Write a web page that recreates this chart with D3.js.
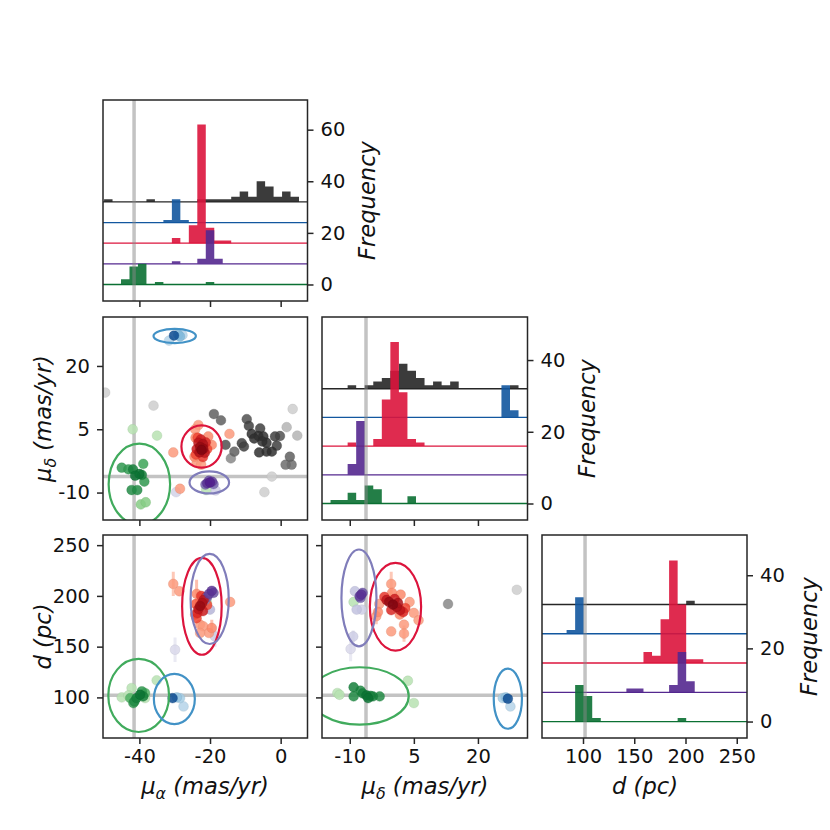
<!DOCTYPE html>
<html>
<head>
<meta charset="utf-8">
<script src="https://cdn.jsdelivr.net/npm/d3@7"></script>
<style>
  body { margin: 0; background: #fff; }
  text { font-family: "DejaVu Sans", sans-serif; }
</style>
</head>
<body>
<div id="chart"></div>
<script>
// ---------------- data ----------------
// group order everywhere: black, blue, red, purple, green
let histOffsets = [32, 24, 16, 8, 0];
let histColors = ["#262626", "#12579f", "#dc143c", "#54288f", "#0b7033"];

// histogram bins: [first edge, bin width], 24 bins
let pmaEdges = [-50, 2.4];
let pmaBlack  = [1,0,0,0,0,1,0,0,0,0,0,1,1,1,1,2,4,2,8,6,2,4,2,0];
let pmaBlue   = [0,0,0,0,0,0,0,1,9,1,0,0,0,0,0,0,0,0,0,0,0,0,0,0];
let pmaRed    = [0,0,0,0,0,0,0,0,2,0,7,46,6,1,1,0,0,0,0,0,0,0,0,0];
let pmaPurple = [0,0,0,0,0,0,0,0,1,0,0,2,13,2,0,0,0,0,0,0,0,0,0,0];
let pmaGreen  = [0,0,2,7,8,0,1,0,0,0,0,0,1,0,0,0,0,0,0,0,0,0,0,0];

let pmdEdges = [-16.5, 2.0];
let pmdBlack  = [0,0,0,1,0,1,2,3,5,7,5,3,1,2,1,2,0,0,0,0,0,0,1,0];
let pmdBlue   = [0,0,0,0,0,0,0,0,0,0,0,0,0,0,0,0,0,0,0,0,0,9,2,0];
let pmdRed    = [0,0,0,1,0,0,2,13,29,15,2,1,0,0,0,0,0,0,0,0,0,0,0,0];
let pmdPurple = [0,0,0,3,15,0,0,0,0,0,0,0,0,0,0,0,0,0,0,0,0,0,0,0];
let pmdGreen  = [0,1,1,3,1,5,4,0,0,0,2,0,0,0,0,0,0,0,0,0,0,0,0,0];

let distEdges = [59, 200 / 24];
let distBlack  = [0,0,0,0,0,0,0,0,0,0,0,0,0,0,0,0,0,1,0,0,0,0,0,0];
let distBlue   = [0,0,0,1,10,0,0,0,0,0,0,0,0,0,0,0,0,0,0,0,0,0,0,0];
let distRed    = [0,0,0,0,0,0,0,0,0,0,0,0,3,2,12,28,16,1,1,0,0,0,0,0];
let distPurple = [0,0,0,0,0,0,0,0,0,0,1,1,0,0,0,2,11,3,0,0,0,0,0,0];
let distGreen  = [0,0,0,0,10,7,1,0,0,0,0,0,0,0,0,0,1,0,0,0,0,0,0,0];

// reference values (grey lines)
let refPmA = -41.5, refPmD = -6.2, refDist = 102;

// scatter points: [x, y, membership shade, optional error in d]
let pmpmBlack = [
  [-18.9, 8.6, .7], [-16.9, 7.1, .7], [-9.6, 7.4, .75], [-9.0, 5.8, .8], [-5.8, 5.2, .8],
  [-8.2, 3.9, .85], [-6.3, 3.4, .85], [-4.9, 3.3, .85], [-4.0, 1.8, .85], [-1.6, 3.3, .8],
  [-0.2, 3.4, .75], [-1.1, 1.1, .8], [-4.0, -0.3, .85], [-6.1, -0.5, .85], [-2.5, -0.3, .85],
  [-11.0, 1.7, .8], [-10.4, 0.9, .8], [-13.1, -0.3, .7], [-14.1, -1.9, .55], [-15.6, 1.3, .75],
  [2.6, -1.5, .7], [3.1, -3.4, .65], [1.4, -3.4, .65], [-5.2, 2.1, .85], [-7.5, 2.8, .85],
  [-49.7, 13.7, .3], [-36.0, 10.6, .3], [3.4, 9.8, .3], [1.7, 5.5, .4], [4.7, 3.5, .4],
  [-2.5, -6.2, .3], [-4.6, -9.9, .3]
];
let pmpmBlue = [[-30.2, 27.2, .9], [-29.0, 27.4, .4], [-27.8, 27.3, .3], [-31.6, 26.0, .3], [-28.5, 27.0, .45]];
let pmpmRed = [
  [-22.4, 0.1, .95], [-22.8, 0.8, .9], [-21.9, 0.4, .9], [-23.0, -0.5, .85], [-22.0, 1.5, .85],
  [-23.3, 1.8, .8], [-21.5, -0.6, .8], [-23.8, 0.3, .75], [-22.6, 2.6, .75], [-21.2, 1.9, .7],
  [-23.5, 3.0, .6], [-22.0, -1.6, .65], [-20.8, 0.3, .6], [-24.0, -1.0, .6],
  [-23.3, 6.0, .35], [-24.2, 5.0, .35], [-24.1, 3.0, .4], [-14.5, 3.9, .35], [-19.5, 1.3, .4],
  [-30.4, -0.5, .35], [-23.8, -3.0, .35], [-22.5, -3.4, .35], [-28.5, -9.1, .35], [-20.5, 3.3, .4], [-24.4, -1.5, .4]
];
let pmpmPurple = [[-20.0, -7.6, .9], [-20.8, -7.8, .85], [-19.4, -7.4, .8], [-21.3, -8.1, .7], [-19.0, -8.0, .7],
  [-20.3, -7.2, .75], [-18.4, -9.5, .3], [-29.6, -9.9, .28]];
let pmpmGreen = [
  [-45.0, -4.1, .7], [-43.1, -4.5, .7], [-41.8, -4.5, .8], [-38.9, -3.2, .65], [-40.0, -5.6, .85],
  [-41.2, -6.0, .85], [-39.3, -5.8, .8], [-38.6, -7.4, .7], [-42.2, -9.4, .75], [-40.6, -9.4, .75],
  [-39.6, -12.8, .45], [-38.2, -12.3, .45], [-41.9, 5.0, .3], [-35.0, 3.5, .3], [-21.1, -9.4, .3]
];

let pmaDistBlue = [[-30.6, 99.3, .9], [-28.5, 99.3, .35], [-27.5, 91.1, .3], [-29.4, 100, .4]];
let pmaDistRed = [
  [-30.4, 211.8, .35, 12], [-28.7, 204.6, .35], [-23.8, 202, .4, 14], [-14.3, 194, .35], [-22.8, 171.7, .35],
  [-21.9, 170, .35], [-20.3, 163.5, .35], [-22.8, 163.5, .35], [-24.2, 181.6, .45], [-19.5, 168.4, .4, 8],
  [-22.8, 190, .9], [-22.2, 193, .85], [-23.3, 187, .8], [-21.8, 196, .8], [-23.6, 183, .7],
  [-22.0, 185, .75], [-21.2, 199, .7], [-23.8, 178, .6], [-22.5, 200, .65], [-20.8, 191, .6], [-24.0, 192, .55]
];
let pmaDistPurple = [[-19.5, 205, .85], [-20.3, 202, .8], [-19.0, 203, .75], [-20.8, 199, .7], [-21.4, 196, .6],
  [-20.0, 186.5, .4], [-18.6, 160, .3, 10], [-29.9, 147, .25, 12]];
let pmaDistGreen = [
  [-45.0, 100, .3], [-42.2, 109.2, .3], [-43.1, 102, .3], [-41.4, 96, .75], [-39.3, 106, .7],
  [-38.4, 104.3, .6], [-40.8, 99.3, .8], [-41.7, 94.4, .7], [-39.8, 102.6, .85], [-38.9, 101, .8],
  [-35.1, 116.8, .3], [-38.4, 99.3, .3], [-42.6, 99.3, .6], [-20.9, 194, .3]
];

let pmdDistBlack = [[13.0, 192, .55], [29.1, 206, .3]];
let pmdDistBlue = [[27.0, 98.7, .9], [25.8, 99.3, .35], [27.6, 91.1, .3], [26.5, 100, .4]];
let pmdDistRed = [
  [-0.3, 211.8, .35, 12], [-3.1, 192.1, .35], [-3.8, 180, .35, 8], [4.0, 194, .35], [5.0, 183.2, .35],
  [6.1, 176, .35], [2.7, 171.7, .35], [-0.3, 165, .35], [2.7, 162.8, .35, 8], [-3.4, 184.2, .4],
  [-0.1, 203, .4], [1.9, 201.3, .4], [1.7, 181.6, .4],
  [0.1, 191.4, .95], [-0.8, 194, .9], [1.0, 189, .85], [-1.4, 196, .8], [1.8, 186, .8], [0.5, 197, .75],
  [-0.3, 186, .7], [2.5, 184, .7], [-1.9, 199, .65], [1.3, 193, .85], [3.0, 188, .6]
];
let pmdDistPurple = [[-7.3, 201.3, .85], [-7.7, 199.6, .8], [-7.0, 203, .75], [-7.5, 198, .7], [-8.8, 204.6, .35],
  [-8.4, 186.5, .35], [-7.2, 186.5, .3], [-9.2, 160, .3, 6], [-9.8, 147.7, .25, 12]];
let pmdDistGreen = [
  [-9.1, 110, .8], [-7.5, 106.6, .75], [-6.1, 102, .85], [-5.7, 99.3, .85], [-4.6, 101, .8],
  [-3.0, 101, .75], [-9.1, 101, .75], [-7.0, 104, .8], [-5.2, 101.6, .8], [-12.9, 104.3, .3],
  [-12.4, 102.6, .3], [3.6, 116.4, .3], [5.0, 94.4, .3], [-9.1, 194, .3]
];

// 1-sigma ellipses [cx, cy, rx, ry] in data units; order green, blue, red, purple
let ellipseColors = ["#41ab5d", "#4292c6", "#dc143c", "#807dba"];
let pmpmEllipses   = [[-40.0, -8.0, 8.7, 9.6], [-30.0, 27.1, 6.0, 1.7], [-22.4, 0.9, 5.7, 5.0], [-20.2, -7.6, 5.6, 2.6]];
let pmaDistEllipses = [[-40.2, 101.9, 8.6, 36], [-30.1, 98.4, 5.8, 24.7], [-22.3, 189.7, 5.6, 47.7], [-20.1, 197, 5.4, 44.4]];
let pmdDistEllipses = [[-7.7, 101.4, 11.5, 28.3], [27.0, 98.7, 3.3, 29.6], [0.7, 189.3, 6.0, 43.2], [-7.85, 198, 4.1, 47.7]];

// ticks
let pmaTicks = [-40, -20, 0], pmdTicks = [-10, 5, 20], distTicks = [100, 150, 200, 250];
let freqTicksTop = [0, 20, 40, 60], freqTicks = [0, 20, 40];

// ---------------- layout ----------------
let colX = [[103, 307.5], [322, 527.5], [542, 747]];
let rowY = [[100, 301], [317, 520], [535, 738]];
let tickFont = 19.5, labelFont = 22.6;

let svg = d3.select("#chart").append("svg")
    .attr("width", 830)
    .attr("height", 830);
let defs = svg.append("defs");

let xPmA = d3.scaleLinear().domain([-50.3, 7.6]).range(colX[0]);
let xPmD = d3.scaleLinear().domain([-16.5, 31.6]).range(colX[1]);
let xDist = d3.scaleLinear().domain([60, 260]).range(colX[2]);
let yPmD = d3.scaleLinear().domain([-16.5, 31.6]).range([rowY[1][1], rowY[1][0]]);
let yDist = d3.scaleLinear().domain([60, 260]).range([rowY[2][1], rowY[2][0]]);
let yHist0 = d3.scaleLinear().domain([-6.4, 71.5]).range([rowY[0][1], rowY[0][0]]);
let yHist1 = d3.scaleLinear().domain([-4.6, 52]).range([rowY[1][1], rowY[1][0]]);
let yHist2 = d3.scaleLinear().domain([-4.5, 51]).range([rowY[2][1], rowY[2][0]]);

let panelCount = 0;
function makePanel(x, y) {
    let id = "clip" + (panelCount++);
    let x0 = x.range()[0], y0 = Math.min(...y.range());
    let w = x.range()[1] - x0, h = Math.abs(y.range()[0] - y.range()[1]);
    defs.append("clipPath").attr("id", id).append("rect")
        .attr("x", x0).attr("y", y0).attr("width", w).attr("height", h);
    let outer = svg.append("g");
    let inner = outer.append("g").attr("clip-path", `url(#${id})`);
    return {outer: outer, inner: inner, box: [x0, y0, w, h]};
}

function refLine(g, x, y, vx, vy) {
    if (vx !== null) g.append("line")
        .attr("x1", x(vx)).attr("x2", x(vx)).attr("y1", y.range()[0]).attr("y2", y.range()[1])
        .attr("stroke", "#888").attr("stroke-opacity", 0.5).attr("stroke-width", 3.5);
    if (vy !== null) g.append("line")
        .attr("x1", x.range()[0]).attr("x2", x.range()[1]).attr("y1", y(vy)).attr("y2", y(vy))
        .attr("stroke", "#888").attr("stroke-opacity", 0.5).attr("stroke-width", 3.5);
}

// stacked, offset histograms
function drawHist(p, x, y, edges, counts, ref) {
    counts.forEach(function(c, gi) {
        let off = histOffsets[gi];
        p.inner.append("line")
            .attr("x1", x.range()[0]).attr("x2", x.range()[1])
            .attr("y1", y(off)).attr("y2", y(off))
            .attr("stroke", histColors[gi]).attr("stroke-width", 1.3);
        let steps = c.map(function(v, i) { return {e: edges[0] + i * edges[1], v: v}; });
        steps.push({e: edges[0] + c.length * edges[1], v: 0});
        let area = d3.area()
            .x(function(d) { return x(d.e); })
            .y0(y(off))
            .y1(function(d) { return y(off + d.v); })
            .curve(d3.curveStepAfter);
        p.inner.append("path").datum(steps)
            .attr("d", area)
            .attr("fill", histColors[gi])
            .attr("fill-opacity", 0.9);
    });
    refLine(p.inner, x, y, ref, null);
}

function drawScatter(p, x, y, sets, ellipses, rx, ry) {
    refLine(p.inner, x, y, rx, ry);
    let pts = [];
    sets.forEach(function(s) {
        s[0].forEach(function(d) {
            pts.push({x: d[0], y: d[1], s: d[2], e: d[3] || 0, c: s[1](d[2])});
        });
    });
    pts.sort(function(a, b) { return a.s - b.s; });

    p.inner.selectAll(null).data(pts.filter(function(d) { return d.e > 0; })).enter()
        .append("line")
        .attr("x1", function(d) { return x(d.x); })
        .attr("x2", function(d) { return x(d.x); })
        .attr("y1", function(d) { return y(d.y - d.e); })
        .attr("y2", function(d) { return y(d.y + d.e); })
        .attr("stroke", function(d) { return d.c; })
        .attr("stroke-opacity", 0.55)
        .attr("stroke-width", 3);

    p.inner.selectAll(null).data(pts).enter()
        .append("circle")
        .attr("cx", function(d) { return x(d.x); })
        .attr("cy", function(d) { return y(d.y); })
        .attr("r", 4.9)
        .attr("fill", function(d) { return d.c; })
        .attr("fill-opacity", 0.85)
        .attr("stroke", function(d) { return d3.color(d.c).darker(0.4); })
        .attr("stroke-opacity", 0.5)
        .attr("stroke-width", 0.6);

    p.inner.selectAll(null).data(ellipses).enter()
        .append("ellipse")
        .attr("cx", function(d) { return x(d[0]); })
        .attr("cy", function(d) { return y(d[1]); })
        .attr("rx", function(d) { return Math.abs(x(d[0] + d[2]) - x(d[0])); })
        .attr("ry", function(d) { return Math.abs(y(d[1] + d[3]) - y(d[1])); })
        .attr("fill", "none")
        .attr("stroke", function(d, i) { return ellipseColors[i]; })
        .attr("stroke-width", 2.2);
}

function styleAxis(g) {
    g.select(".domain").remove();
    g.selectAll(".tick line").attr("stroke", "#262626").attr("stroke-width", 1.5);
    g.selectAll(".tick text").attr("fill", "#111").style("font-size", tickFont + "px")
        .style("font-family", "'DejaVu Sans', sans-serif");
}

function frame(p, axes) {
    let b = p.box;
    axes.forEach(function(a) {
        let g = p.outer.append("g");
        let ax;
        if (a.side === "bottom") { ax = d3.axisBottom(a.scale); g.attr("transform", `translate(0,${b[1] + b[3]})`); }
        if (a.side === "left")   { ax = d3.axisLeft(a.scale);   g.attr("transform", `translate(${b[0]},0)`); }
        if (a.side === "right")  { ax = d3.axisRight(a.scale);  g.attr("transform", `translate(${b[0] + b[2]},0)`); }
        ax.tickValues(a.ticks).tickSize(6).tickPadding(a.side === "bottom" ? 5 : 7)
          .tickFormat(a.labels ? function(d) { return String(d); } : "");
        g.call(ax);
        styleAxis(g);
    });
    p.outer.append("rect")
        .attr("x", b[0]).attr("y", b[1]).attr("width", b[2]).attr("height", b[3])
        .attr("fill", "none").attr("stroke", "#262626").attr("stroke-width", 1.5);
}

// ---------------- panels ----------------
let pA = makePanel(xPmA, yHist0);
drawHist(pA, xPmA, yHist0, pmaEdges, [pmaBlack, pmaBlue, pmaRed, pmaPurple, pmaGreen], refPmA);
frame(pA, [{side: "bottom", scale: xPmA, ticks: pmaTicks, labels: false},
           {side: "right", scale: yHist0, ticks: freqTicksTop, labels: true}]);

let pB = makePanel(xPmA, yPmD);
drawScatter(pB, xPmA, yPmD,
    [[pmpmBlack, d3.interpolateGreys], [pmpmBlue, d3.interpolateBlues], [pmpmRed, d3.interpolateReds],
     [pmpmPurple, d3.interpolatePurples], [pmpmGreen, d3.interpolateGreens]],
    pmpmEllipses, refPmA, refPmD);
frame(pB, [{side: "bottom", scale: xPmA, ticks: pmaTicks, labels: false},
           {side: "left", scale: yPmD, ticks: pmdTicks, labels: true}]);

let pC = makePanel(xPmD, yHist1);
drawHist(pC, xPmD, yHist1, pmdEdges, [pmdBlack, pmdBlue, pmdRed, pmdPurple, pmdGreen], refPmD);
frame(pC, [{side: "bottom", scale: xPmD, ticks: pmdTicks, labels: false},
           {side: "right", scale: yHist1, ticks: freqTicks, labels: true}]);

let pD = makePanel(xPmA, yDist);
drawScatter(pD, xPmA, yDist,
    [[pmaDistBlue, d3.interpolateBlues], [pmaDistRed, d3.interpolateReds],
     [pmaDistPurple, d3.interpolatePurples], [pmaDistGreen, d3.interpolateGreens]],
    pmaDistEllipses, refPmA, refDist);
frame(pD, [{side: "bottom", scale: xPmA, ticks: pmaTicks, labels: true},
           {side: "left", scale: yDist, ticks: distTicks, labels: true}]);

let pE = makePanel(xPmD, yDist);
drawScatter(pE, xPmD, yDist,
    [[pmdDistBlack, d3.interpolateGreys], [pmdDistBlue, d3.interpolateBlues], [pmdDistRed, d3.interpolateReds],
     [pmdDistPurple, d3.interpolatePurples], [pmdDistGreen, d3.interpolateGreens]],
    pmdDistEllipses, refPmD, refDist);
frame(pE, [{side: "bottom", scale: xPmD, ticks: pmdTicks, labels: true},
           {side: "left", scale: yDist, ticks: distTicks, labels: false}]);

let pF = makePanel(xDist, yHist2);
drawHist(pF, xDist, yHist2, distEdges, [distBlack, distBlue, distRed, distPurple, distGreen], refDist);
frame(pF, [{side: "bottom", scale: xDist, ticks: distTicks, labels: true},
           {side: "right", scale: yHist2, ticks: freqTicks, labels: true}]);

// ---------------- axis labels ----------------
function label(x, y, rotate, main, sub, rest) {
    let t = svg.append("text")
        .attr("transform", `translate(${x},${y})` + (rotate ? " rotate(-90)" : ""))
        .attr("text-anchor", "middle")
        .style("font-size", labelFont + "px")
        .style("font-style", "italic")
        .attr("fill", "#111");
    t.append("tspan").text(main);
    if (sub) {
        t.append("tspan").attr("dy", 5).style("font-size", (labelFont * 0.7) + "px").text(sub);
        t.append("tspan").attr("dy", -5).text(rest);
    } else {
        t.append("tspan").text(rest);
    }
}

label(205, 794, false, "\u03bc", "\u03b1", " (mas/yr)");
label(425, 794, false, "\u03bc", "\u03b4", " (mas/yr)");
label(645, 794, false, "d", null, " (pc)");
label(51, 418.5, true, "\u03bc", "\u03b4", " (mas/yr)");
label(51, 636.5, true, "d", null, " (pc)");
label(375, 200.5, true, "Frequency", null, "");
label(595, 418.5, true, "Frequency", null, "");
label(817, 636.5, true, "Frequency", null, "");
</script>
</body>
</html>
